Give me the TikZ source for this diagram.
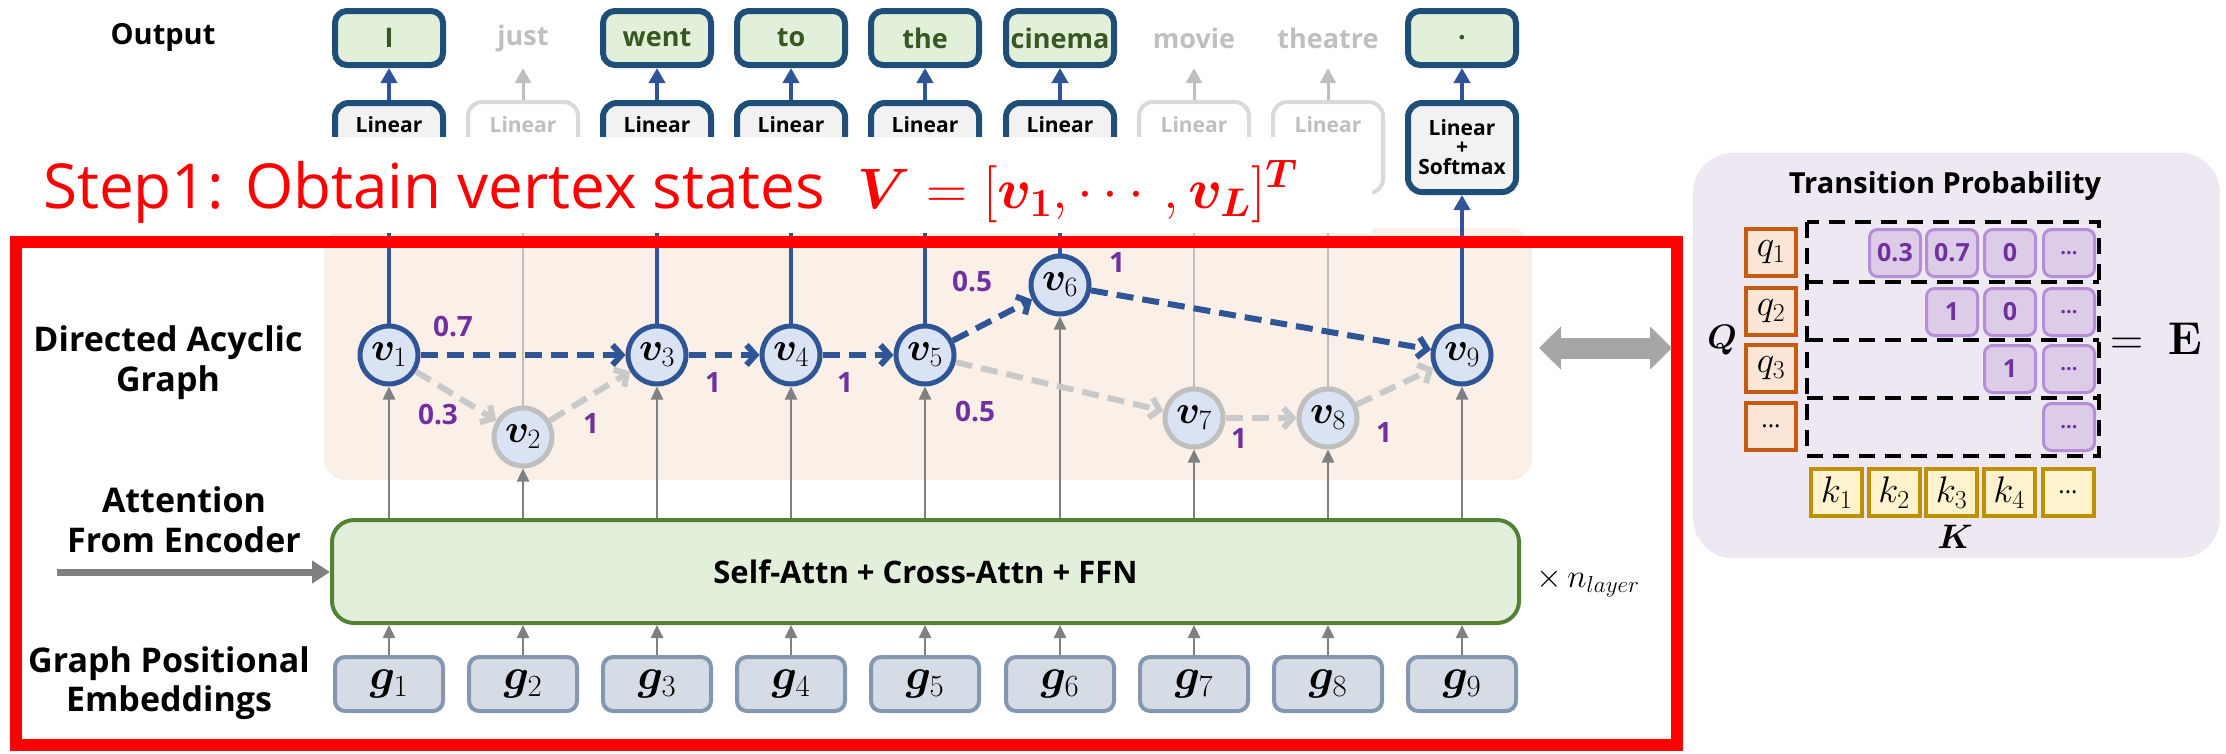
\RequirePackage{fix-cm}
\documentclass[tikz,border=0pt]{standalone}
\usepackage{amsmath,bm}
\usepackage[no-math]{fontspec}
\setmainfont{Open Sans}
\usetikzlibrary{arrows.meta}
\definecolor{navy}{HTML}{1F4E79}
\definecolor{ablue}{HTML}{2F5597}
\definecolor{vfill}{HTML}{DAE3F3}
\definecolor{gfill}{HTML}{E2F0D9}
\definecolor{gtext}{HTML}{385723}
\definecolor{linfill}{HTML}{F2F2F2}
\definecolor{lgray}{HTML}{BFBFBF}
\definecolor{llgray}{HTML}{D9D9D9}
\definecolor{dgray}{HTML}{808080}
\definecolor{purp}{HTML}{7030A0}
\definecolor{peach}{HTML}{FBF0E7}
\definecolor{lav}{HTML}{EEE8F3}
\definecolor{pefill}{HTML}{D6DCE5}
\definecolor{peline}{HTML}{8497B0}
\definecolor{safill}{HTML}{E2EFDA}
\definecolor{saline}{HTML}{548235}
\definecolor{qline}{HTML}{C55A11}
\definecolor{qfill}{HTML}{FBE5D6}
\definecolor{kline}{HTML}{BF9000}
\definecolor{kfill}{HTML}{FFF2CC}
\definecolor{cfill}{HTML}{DCCCE8}
\definecolor{cline}{HTML}{B48FD8}
\definecolor{dblgray}{HTML}{A6A6A6}
\newcommand\myfs[1]{\fontsize{#1}{#1}\selectfont}
\newcommand\stepmath{$\bm{V}=[\bm{v}_{\bm{1}},\cdots,\bm{v}_{\bm{L}}]^{\bm{T}}$}
\begin{document}
\begin{tikzpicture}[x=1pt,y=-1pt,
  word/.style={draw=navy,line width=6pt,fill=gfill,rounded corners=12pt,minimum width=108pt,minimum height=54pt,inner sep=0pt,text=gtext,font=\myfs{27}\bfseries},
  gword/.style={minimum width=108pt,minimum height=60pt,inner sep=0pt,text=lgray,font=\myfs{27}\bfseries},
  lin/.style={draw=navy,line width=6pt,fill=linfill,rounded corners=14pt,minimum width=108pt,minimum height=89pt,inner sep=0pt},
  glin/.style={draw=llgray,line width=4pt,fill=white,rounded corners=14pt,minimum width=110pt,minimum height=91pt,inner sep=0pt},
  lintext/.style={inner sep=0pt,font=\myfs{21}\bfseries},
  vn/.style={circle,draw=ablue,line width=5pt,fill=vfill,minimum size=58pt,inner sep=0pt,font=\myfs{40}},
  sablock/.style={draw=saline,line width=4pt,fill=safill,rounded corners=22pt,minimum width=1187pt,minimum height=103pt,inner sep=0pt,font=\myfs{31}\bfseries},
  pebox/.style={draw=peline,line width=4pt,fill=pefill,rounded corners=10pt,minimum width=108pt,minimum height=54pt,inner sep=0pt,font=\myfs{44}},
  lab/.style={align=center,inner sep=0pt,font=\myfs{34}\bfseries},
  elab/.style={inner sep=0pt,text=purp,font=\myfs{28}\bfseries},
  barr/.style={ablue,line width=4pt,-{Triangle[length=15pt,width=16pt]}},
  garr/.style={lgray,line width=3pt,-{Triangle[length=15pt,width=16pt]}},
  vup/.style={ablue,line width=4.5pt,-{Triangle[length=15pt,width=16pt]}},
  gvup/.style={lgray,line width=2.5pt,-{Triangle[length=13pt,width=13pt]}},
  larr/.style={dgray,line width=2.5pt,-{Triangle[length=13pt,width=12pt]}},
  bdash/.style={ablue,line width=6pt,dash pattern=on 17pt off 9pt,-{Straight Barb[length=9pt,width=20pt]}},
  gdash/.style={lgray!85!white,line width=6pt,dash pattern=on 17pt off 9pt,-{Straight Barb[length=9pt,width=20pt]}},
  qbox/.style={draw=qline,line width=4pt,fill=qfill,minimum width=50pt,minimum height=47pt,inner sep=0pt,font=\myfs{37}},
  kbox/.style={draw=kline,line width=4pt,fill=kfill,minimum width=51pt,minimum height=47pt,inner sep=0pt,font=\myfs{37}},
  pcell/.style={draw=cline,line width=3pt,fill=cfill,rounded corners=8pt,minimum width=51pt,minimum height=47pt,inner sep=0pt,text=purp,font=\myfs{25}\bfseries},
  rowbox/.style={black,line width=4pt,dash pattern=on 16pt off 10pt}
]
\useasboundingbox (0,0) rectangle (2226,753);
% background of the graph
\fill[peach, rounded corners=22pt] (324,228) rectangle (1532,480);

% output words
\node[lab,font=\myfs{29}\bfseries] (outl) at (163,37) {Output};
\foreach \i/\x/\w in {1/389/I,3/657/went,4/791/to,5/925/the,6/1060/cinema,9/1462/.}
  \node[word] (w\i) at (\x,38) {\w};
\foreach \i/\x/\w in {2/523/just,7/1194/movie,8/1328/theatre}
  \node[gword] (w\i) at (\x,38) {\w};

% linear boxes
\foreach \i/\x in {1/389,3/657,4/791,5/925,6/1060}{
  \node[lin] (l\i) at (\x,147.5) {};
  \node[lintext] (lt\i) at (\x,125) {Linear};}
\foreach \i/\x in {2/523,7/1194,8/1328}{
  \node[glin] (l\i) at (\x,147.5) {};
  \node[lintext,text=lgray] (lt\i) at (\x,125) {Linear};}
\node[lin,align=center,font=\myfs{21}\bfseries] (l9) at (1462,147.5) {Linear\\[-2pt]+\\[-1pt]Softmax};

\foreach \i in {1,3,4,5,6,9} \draw[barr] (l\i) -- (w\i);
\foreach \i in {2,7,8} \draw[garr] (l\i) -- (w\i);

% vertices
\foreach \i/\x/\y in {1/389/355,3/657/355,4/791/355,5/925/355,6/1060/285,9/1462/355}
  \node[vn] (v\i) at (\x,\y) {$\bm{v}_{\i}$};
\foreach \i/\x/\y in {2/523/437,7/1194/418,8/1328/418}
  \node[vn,draw=lgray] (v\i) at (\x,\y) {$\bm{v}_{\i}$};

\foreach \i in {1,3,4,5,6,9} \draw[vup] (v\i) -- (l\i);
\foreach \i in {2,7,8} \draw[gvup] (v\i) -- (l\i);

% decoder block
\node[sablock] (sa) at (925.5,571.5) {Self-Attn + Cross-Attn + FFN};
\node[anchor=west,inner sep=0pt,font=\myfs{33}] (nl) at (1536,583) {$\times\, n_{layer}$};

% positional embeddings
\foreach \i/\x in {1/389,2/523,3/657,4/791,5/925,6/1060,7/1194,8/1328,9/1462}
  \node[pebox] (g\i) at (\x,684) {$\bm{g}_{\i}$};
\foreach \i in {1,...,9}{
  \draw[larr] (g\i) -- (g\i |- sa.south);
  \draw[larr] (v\i |- sa.north) -- (v\i);}

\coordinate (encin) at (57,572);
\draw[dgray,line width=7pt,-{Triangle[length=18pt,width=22pt]}] (encin) -- (sa.west |- encin);

% row labels
\node[lab] (dag) at (168,363) {Directed Acyclic\\[6pt]Graph};
\node[lab] (att) at (184,520) {Attention\\[6pt]From Encoder};
\node[lab] (gpe) at (169,683) {Graph Positional\\[5pt]Embeddings};

% DAG edges
\draw[gdash] (v1) -- (v2);
\draw[gdash] (v2) -- (v3);
\draw[gdash] (v5) -- (v7);
\draw[gdash] (v7) -- (v8);
\draw[gdash] (v8) -- (v9);
\draw[bdash] (v1) -- (v3);
\draw[bdash] (v3) -- (v4);
\draw[bdash] (v4) -- (v5);
\draw[bdash] (v5) -- (v6);
\draw[bdash] (v6) -- (v9);

\node[elab] (e13) at (453,327) {0.7};
\node[elab] (e12) at (438,415) {0.3};
\node[elab] (e23) at (591,423) {1};
\node[elab] (e34) at (713,382) {1};
\node[elab] (e45) at (845,382) {1};
\node[elab] (e56) at (972,282) {0.5};
\node[elab] (e69) at (1117,262) {1};
\node[elab] (e57) at (975,412) {0.5};
\node[elab] (e78) at (1239,438) {1};
\node[elab] (e89) at (1384,432) {1};

% step 1 banner
\fill[white] (0,137) rectangle (1372,233);
\node[anchor=base west,inner sep=0pt,text=red,font=\myfs{62}] (st) at (43,208) {Step1: Obtain vertex states};
\node[anchor=base west,inner sep=0pt,text=red,font=\myfs{57}] (sm) at (857,208) {\stepmath};
\draw[red,line width=12pt] (16,242) rectangle (1677,745);

% double arrow
\coordinate (da1) at (1539,348);
\coordinate (da2) at (1672,348);
\draw[dblgray,line width=21pt,{Triangle[length=22pt,width=42pt]}-{Triangle[length=22pt,width=42pt]}] (da1) -- (da2);

% transition probability panel
\fill[lav,rounded corners=40pt] (1693,153) rectangle (2220,558);
\node[lab,font=\myfs{29}\bfseries] (tp) at (1945,186) {Transition Probability};
\node[qbox] (q1) at (1771,252.5) {$q_1$};
\node[qbox] (q2) at (1771,311.5) {$q_2$};
\node[qbox] (q3) at (1771,368.5) {$q_3$};
\node[qbox,font=\myfs{24}] (q4) at (1771,426.5) {...};
\node[inner sep=0pt,font=\myfs{34}] (ql) at (1722,340) {$\bm{Q}$};

\node[pcell] (c11) at (1895,253) {0.3};
\node[pcell] (c12) at (1952,253) {0.7};
\node[pcell] (c13) at (2010,253) {0};
\node[pcell,font=\myfs{20}\bfseries] (c14) at (2069,253) {...};
\node[pcell] (c22) at (1952,312) {1};
\node[pcell] (c23) at (2010,312) {0};
\node[pcell,font=\myfs{20}\bfseries] (c24) at (2069,312) {...};
\node[pcell] (c33) at (2010,369) {1};
\node[pcell,font=\myfs{20}\bfseries] (c34) at (2069,369) {...};
\node[pcell,font=\myfs{20}\bfseries] (c44) at (2069,427) {...};

\draw[rowbox] (1807,222) rectangle (2099,456);
\draw[rowbox] (1807,282) -- (2099,282);
\draw[rowbox] (1807,340) -- (2099,340);
\draw[rowbox] (1807,398) -- (2099,398);

\node[kbox] (k1) at (1836.5,492.5) {$k_1$};
\node[kbox] (k2) at (1894,492.5) {$k_2$};
\node[kbox] (k3) at (1951.5,492.5) {$k_3$};
\node[kbox] (k4) at (2009,492.5) {$k_4$};
\node[kbox,font=\myfs{24}] (k5) at (2068,492.5) {...};
\node[inner sep=0pt,font=\myfs{34}] (kl) at (1955,537) {$\bm{K}$};

\node[inner sep=0pt,font=\myfs{46}] (eq) at (2156,339) {$=\ \mathbf{E}$};
\end{tikzpicture}
\end{document}
